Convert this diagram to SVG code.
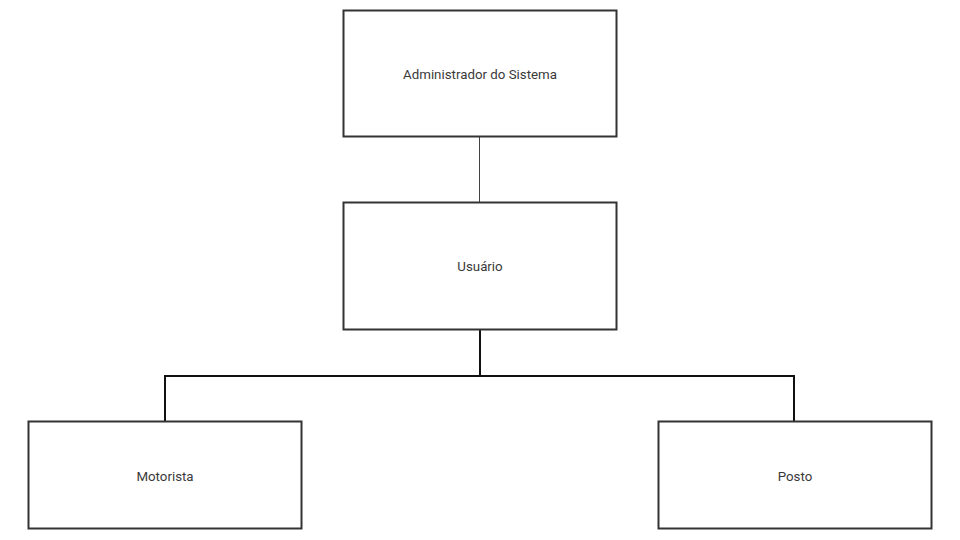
<svg xmlns="http://www.w3.org/2000/svg" width="960" height="540" viewBox="0 0 960 540">
<style>
.box{fill:#ffffff;stroke:#333333;stroke-width:2}
.lbl{font-family:Roboto,"Liberation Sans",sans-serif;font-size:13.3px;fill:#3a3a3a;text-anchor:middle}
.thin{fill:none;stroke:#444444;stroke-width:1}
.thick{fill:none;stroke:#111111;stroke-width:2}
</style>
<rect width="960" height="540" fill="#ffffff"/>
<g id="connectors">
<line class="thin" x1="479.5" y1="137" x2="479.5" y2="202"/>
<polyline class="thick" points="480,330 480,376 165,376 165,421"/>
<polyline class="thick" points="480,376 794,376 794,421"/>
</g>
<g id="admin">
<rect class="box" x="343.5" y="10.5" width="273" height="126"/>
<text class="lbl" x="480" y="78.5">Administrador do Sistema</text>
</g>
<g id="usuario">
<rect class="box" x="343.5" y="202.5" width="273" height="127"/>
<text class="lbl" x="480" y="270.5">Usuário</text>
</g>
<g id="motorista">
<rect class="box" x="28.5" y="421.5" width="273" height="107"/>
<text class="lbl" x="165" y="480.5">Motorista</text>
</g>
<g id="posto">
<rect class="box" x="658.5" y="421.5" width="273" height="107"/>
<text class="lbl" x="795" y="480.5">Posto</text>
</g>
</svg>
